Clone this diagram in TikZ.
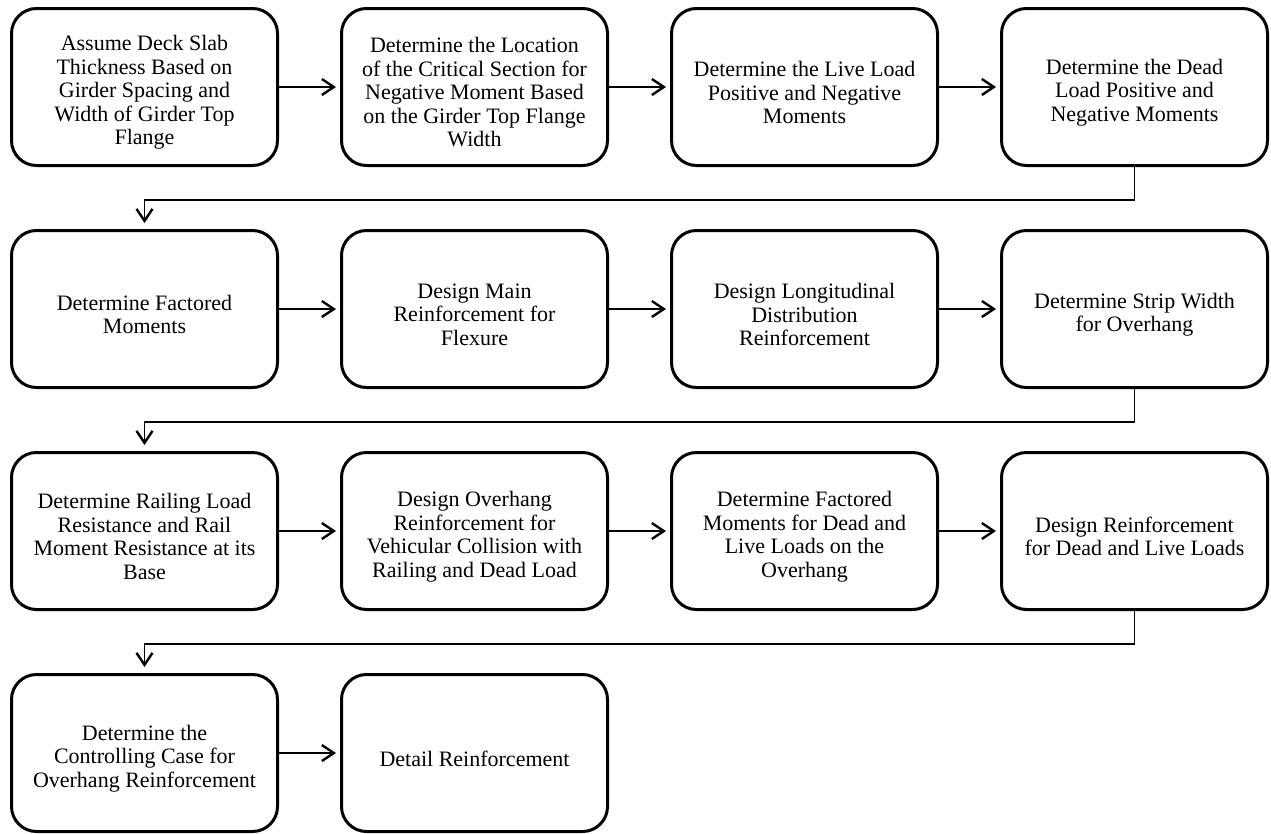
\documentclass[tikz,border=0pt]{standalone}
\usepackage{fontspec}
\setmainfont{Liberation Serif}
\usetikzlibrary{arrows.meta}
\newcommand\stepnode[3]{%
  \node[stepbox] (#1) at (#2) {};
  \node[steptext] (#1t) at ([yshift=-5.5pt]#1.center) {#3};}
\begin{document}
\begin{tikzpicture}[x=1pt,y=-1pt,
  stepbox/.style={draw=black, line width=3pt, rounded corners=25pt,
    minimum width=266pt, minimum height=157pt},
  steptext/.style={align=center, font=\fontsize{22}{23.5}\selectfont, inner sep=0pt},
  flow/.style={line width=1.4pt, -{Straight Barb[length=12pt,width=16pt,line width=2.4pt]}, shorten >=4pt},
  loop/.style={line width=1.2pt, -{Straight Barb[length=12pt,width=16pt,line width=2.4pt]}, shorten >=6pt}
]
\useasboundingbox (0,0) rectangle (1271,833);
% row 1
\stepnode{b1}{144.5,87}{Assume Deck Slab\\Thickness Based on\\Girder Spacing and\\Width of Girder Top\\Flange}
\stepnode{b2}{474.5,87}{Determine the Location\\of the Critical Section for\\Negative Moment Based\\on the Girder Top Flange\\Width}
\stepnode{b3}{804.5,87}{Determine the Live Load\\Positive and Negative\\Moments}
\stepnode{b4}{1134.5,87}{Determine the Dead\\Load Positive and\\Negative Moments}
% row 2
\stepnode{b5}{144.5,309}{Determine Factored\\Moments}
\stepnode{b6}{474.5,309}{Design Main\\Reinforcement for\\Flexure}
\stepnode{b7}{804.5,309}{Design Longitudinal\\Distribution\\Reinforcement}
\stepnode{b8}{1134.5,309}{Determine Strip Width\\for Overhang}
% row 3
\stepnode{b9}{144.5,531}{Determine Railing Load\\Resistance and Rail\\Moment Resistance at its\\Base}
\stepnode{b10}{474.5,531}{Design Overhang\\Reinforcement for\\Vehicular Collision with\\Railing and Dead Load}
\stepnode{b11}{804.5,531}{Determine Factored\\Moments for Dead and\\Live Loads on the\\Overhang}
\stepnode{b12}{1134.5,531}{Design Reinforcement\\for Dead and Live Loads}
% row 4
\stepnode{b13}{144.5,753}{Determine the\\Controlling Case for\\Overhang Reinforcement}
\stepnode{b14}{474.5,753}{Detail Reinforcement}
% connectors
\draw[flow] (b1.east) -- (b2.west);
\draw[flow] (b2.east) -- (b3.west);
\draw[flow] (b3.east) -- (b4.west);
\draw[loop] (b4.south) -- ++(0,33) -| (b5.north);
\draw[flow] (b5.east) -- (b6.west);
\draw[flow] (b6.east) -- (b7.west);
\draw[flow] (b7.east) -- (b8.west);
\draw[loop] (b8.south) -- ++(0,33) -| (b9.north);
\draw[flow] (b9.east) -- (b10.west);
\draw[flow] (b10.east) -- (b11.west);
\draw[flow] (b11.east) -- (b12.west);
\draw[loop] (b12.south) -- ++(0,33) -| (b13.north);
\draw[flow] (b13.east) -- (b14.west);
\end{tikzpicture}
\end{document}
